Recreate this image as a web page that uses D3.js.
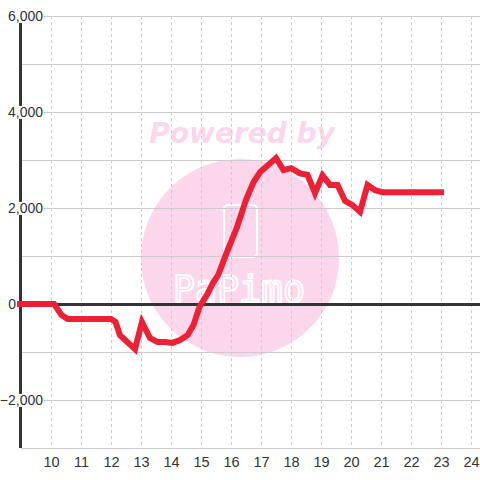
<!DOCTYPE html>
<html><head><meta charset="utf-8">
<script src="https://cdn.jsdelivr.net/npm/d3@7"></script>
<style>body{margin:0;background:#fff}svg{display:block;font-family:"Liberation Sans",Arial,sans-serif}</style>
</head><body>
<script>
const times = [8.87, 10.1, 10.35, 10.55, 12.0, 12.15, 12.3, 12.8, 13.03, 13.3, 13.55, 13.8, 14.05, 14.3, 14.55, 14.75, 14.95, 15.2, 15.4, 15.57, 15.85, 16.2, 16.5, 16.75, 16.97, 17.25, 17.5, 17.75, 18.0, 18.3, 18.55, 18.8, 19.05, 19.3, 19.55, 19.8, 20.05, 20.3, 20.55, 20.8, 21.05, 23.1];
const values = [0, 0, -230, -310, -310, -375, -650, -940, -375, -710, -790, -790, -810, -750, -650, -440, -60, 190, 440, 600, 1060, 1600, 2170, 2540, 2750, 2900, 3040, 2790, 2830, 2720, 2690, 2310, 2680, 2480, 2480, 2150, 2060, 1920, 2480, 2370, 2330, 2330];
const xTicks = [10, 11, 12, 13, 14, 15, 16, 17, 18, 19, 20, 21, 22, 23, 24];
const yTicks = [-2000, 0, 2000, 4000, 6000];
const yGrid = [-3000, -2000, -1000, 0, 1000, 2000, 3000, 4000, 5000, 6000];

const W = 480, H = 480;
const x = d3.scaleLinear().domain([9, 24.3]).range([21, 480]);
const y = d3.scaleLinear().domain([-3000, 6000]).range([448, 16]);

const svg = d3.select("body").append("svg").attr("width", W).attr("height", H);

// watermark
const wm = svg.append("g");
wm.append("circle").attr("cx", 240).attr("cy", 258).attr("r", 99).attr("fill", "#fcd6eb");
wm.append("text").attr("x", 242).attr("y", 143).attr("text-anchor", "middle")
  .attr("font-size", 28).attr("font-weight", "bold").attr("font-style", "italic")
  .attr("fill", "#fcd6eb").attr("font-family", "DejaVu Sans, sans-serif").text("Powered by");
wm.append("rect").attr("x", 224).attr("y", 205).attr("width", 33).attr("height", 52).attr("rx", 4)
  .attr("fill", "none").attr("stroke", "#fff").attr("stroke-width", 2);
wm.append("text").attr("x", 173).attr("y", 302)
  .attr("font-size", 38).attr("fill", "none").attr("stroke", "#fff").attr("stroke-width", 2)
  .attr("textLength", 132).attr("lengthAdjust", "spacingAndGlyphs")
  .attr("font-family", "DejaVu Sans Mono, monospace").text("PaPimo");

// grid
svg.append("g").selectAll("line").data(yGrid).join("line")
  .attr("x1", 21).attr("x2", 480).attr("y1", d => y(d) + 0.5).attr("y2", d => y(d) + 0.5)
  .attr("stroke", "#ccc").attr("stroke-width", 1);
svg.append("g").selectAll("line").data(xTicks).join("line")
  .attr("x1", d => Math.round(x(d)) + 0.5).attr("x2", d => Math.round(x(d)) + 0.5)
  .attr("y1", 16).attr("y2", 448)
  .attr("stroke", "#ccc").attr("stroke-width", 1).attr("stroke-dasharray", "3,3");

// axes
svg.append("line").attr("x1", 20.5).attr("x2", 20.5).attr("y1", 16).attr("y2", 448)
  .attr("stroke", "#333").attr("stroke-width", 3);
svg.append("line").attr("x1", 17).attr("x2", 480).attr("y1", y(0) + 0.5).attr("y2", y(0) + 0.5)
  .attr("stroke", "#333").attr("stroke-width", 3);

// y labels with white background
const yl = svg.append("g").selectAll("g").data(yTicks).join("g");
yl.append("text").attr("x", d => d === 0 ? 16 : 43).attr("y", d => y(d)).attr("dy", "0.35em")
  .attr("text-anchor", "end").attr("font-size", 14).attr("fill", "#333").text(d => d3.format(",")(d))
  .each(function() {
    const b = this.getBBox();
    d3.select(this.parentNode).insert("rect", "text")
      .attr("x", b.x).attr("y", b.y + 2).attr("width", b.width).attr("height", b.height - 3).attr("fill", "#fff");
  });

// x labels
svg.append("g").selectAll("text").data(xTicks).join("text")
  .attr("x", d => x(d) + 0.5).attr("y", 467).attr("text-anchor", "middle")
  .attr("font-size", 14.5).attr("fill", "#333").text(d => d);

// line
const pts = times.map((t, i) => [t, values[i]]);
svg.append("path").datum(pts)
  .attr("d", d3.line().x(d => x(d[0])).y(d => y(d[1])))
  .attr("fill", "none").attr("stroke", "#ee2036").attr("stroke-width", 6)
  .attr("stroke-linejoin", "miter");
</script>
</body></html>
